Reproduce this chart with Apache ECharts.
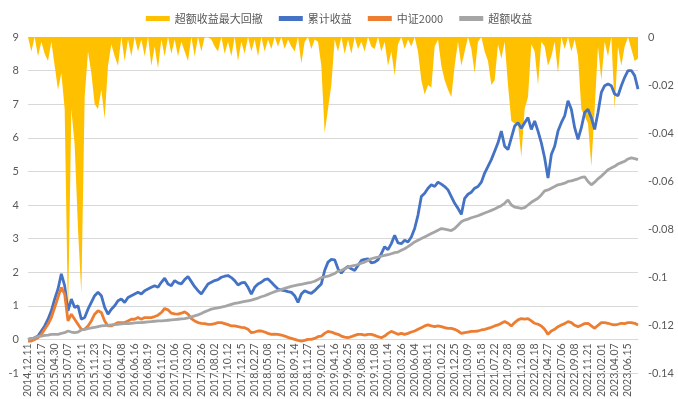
<!DOCTYPE html>
<html>
<head>
<meta charset="utf-8">
<script src="https://cdn.jsdelivr.net/npm/echarts@6/dist/echarts.min.js"></script>
<style>
  html, body { margin: 0; padding: 0; background: #fff; }
</style>
</head>
<body>
<div id="main" style="width: 678px; height: 399px;"></div>
<script>
// date labels shown on the x axis (one every 4 samples)
const tickLabels = ['2014.12.11','2015.02.17','2015.04.30','2015.07.07','2015.09.11','2015.11.23','2016.01.27','2016.04.08','2016.06.16','2016.08.19','2016.11.02','2017.01.06','2017.03.20','2017.05.26','2017.08.02','2017.10.12','2017.12.15','2018.02.27','2018.05.08','2018.07.12','2018.09.14','2018.11.27','2019.02.01','2019.04.16','2019.06.25','2019.08.28','2019.11.08','2020.01.14','2020.03.26','2020.06.04','2020.08.11','2020.10.22','2020.12.25','2021.03.09','2021.05.18','2021.07.22','2021.09.28','2021.12.08','2022.02.18','2022.04.27','2022.07.06','2022.09.08','2022.11.21','2023.02.01','2023.04.07','2023.06.15'];

// 超额收益最大回撤 (right axis)
const drawdown = [0,-0.006,0,-0.008,-0.002,-0.007,-0.01,-0.002,-0.012,-0.022,-0.015,-0.03,-0.117,-0.03,-0.045,-0.08,-0.107,-0.025,-0.006,-0.015,-0.028,-0.03,-0.022,-0.034,-0.012,-0.003,-0.008,-0.012,0,-0.01,-0.001,-0.008,0,-0.006,-0.001,-0.008,0,
  -0.012,-0.004,-0.013,-0.001,-0.008,0,-0.007,-0.001,-0.008,-0.002,-0.006,-0.01,0,-0.008,0,-0.006,0,0,-0.001,-0.004,-0.006,0,-0.007,-0.002,-0.008,0,-0.01,-0.002,-0.007,0,-0.006,-0.001,-0.008,0,-0.006,-0.001,-0.005,0,
  -0.004,0,-0.005,-0.001,-0.004,-0.006,0,-0.011,-0.002,0,-0.005,-0.001,-0.002,-0.012,-0.04,-0.03,-0.02,-0.001,-0.006,0,-0.007,-0.001,-0.007,0,-0.005,-0.002,-0.006,0,-0.004,-0.005,0,-0.006,-0.002,-0.012,-0.006,-0.016,-0.003,
  0,-0.005,-0.001,-0.004,0,-0.006,-0.018,-0.024,-0.02,-0.021,-0.004,-0.001,-0.012,-0.018,-0.022,-0.025,-0.012,-0.002,-0.012,-0.006,0,-0.005,-0.015,-0.002,0,-0.006,-0.01,-0.02,-0.018,-0.003,-0.009,-0.002,-0.02,-0.035,-0.036,-0.036,-0.05,
  -0.03,-0.025,-0.003,-0.006,-0.02,-0.002,-0.004,-0.012,-0.008,-0.002,-0.015,0,-0.005,0,-0.006,-0.001,-0.008,-0.03,-0.033,-0.036,-0.054,-0.03,-0.004,-0.018,-0.002,-0.008,0,-0.03,-0.004,-0.012,-0.004,0,-0.005,-0.01,-0.009];

// 累计收益
const cumReturn = [0,0.02,0.05,0.1,0.25,0.4,0.6,0.85,1.2,1.5,1.95,1.6,0.85,1.2,0.95,1.0,0.6,0.65,0.9,1.1,1.3,1.4,1.3,0.95,0.75,0.9,1.0,1.15,1.2,1.1,1.25,1.3,1.35,1.4,1.35,1.45,1.5,
  1.55,1.6,1.55,1.7,1.82,1.65,1.6,1.75,1.68,1.65,1.78,1.87,1.72,1.57,1.45,1.35,1.5,1.65,1.7,1.75,1.78,1.85,1.88,1.9,1.84,1.75,1.62,1.68,1.7,1.55,1.35,1.55,1.65,1.7,1.78,1.8,1.7,1.6,
  1.5,1.47,1.45,1.42,1.4,1.3,1.1,1.35,1.45,1.4,1.37,1.45,1.55,1.65,2.05,2.3,2.38,2.37,2.1,1.97,2.1,2.17,2.1,2.05,2.2,2.35,2.38,2.4,2.28,2.3,2.37,2.55,2.76,2.67,2.85,3.1,2.87,
  2.85,2.95,2.9,3.05,3.3,3.7,4.25,4.35,4.5,4.6,4.55,4.68,4.62,4.55,4.45,4.25,4.05,3.9,3.72,4.2,4.32,4.38,4.5,4.55,4.68,4.95,5.15,5.35,5.6,5.85,6.2,5.75,5.65,6.0,6.35,6.45,6.28,
  6.45,6.6,6.25,6.5,6.2,5.85,5.4,4.8,5.5,5.75,6.2,6.45,6.65,7.1,6.85,6.3,5.95,6.3,6.75,6.85,6.6,6.25,6.75,7.35,7.55,7.6,7.55,7.3,7.25,7.55,7.8,8.0,8.0,7.85,7.45];

// 中证2000
const csi2000 = [-0.05,-0.05,0,0.05,0.15,0.3,0.45,0.65,0.95,1.25,1.55,1.35,0.55,0.75,0.6,0.45,0.3,0.3,0.4,0.55,0.75,0.85,0.8,0.55,0.4,0.4,0.45,0.5,0.5,0.5,0.55,0.6,0.6,0.65,0.6,0.65,0.65,
  0.65,0.68,0.72,0.8,0.92,0.88,0.78,0.76,0.75,0.78,0.82,0.75,0.62,0.55,0.5,0.48,0.47,0.45,0.45,0.47,0.5,0.5,0.47,0.44,0.4,0.4,0.38,0.36,0.35,0.3,0.2,0.22,0.25,0.25,0.22,0.18,0.15,0.16,
  0.15,0.13,0.1,0.06,0.03,0,-0.03,-0.05,-0.03,0,0,0.03,0.08,0.1,0.18,0.24,0.22,0.18,0.15,0.1,0.07,0.05,0.08,0.12,0.15,0.15,0.13,0.15,0.15,0.12,0.08,0.05,0.1,0.18,0.24,0.2,0.15,
  0.18,0.15,0.18,0.22,0.25,0.3,0.35,0.4,0.43,0.4,0.38,0.4,0.38,0.35,0.33,0.33,0.3,0.25,0.18,0.2,0.22,0.24,0.24,0.25,0.28,0.3,0.33,0.36,0.4,0.43,0.48,0.53,0.48,0.4,0.5,0.58,0.62,
  0.6,0.62,0.55,0.48,0.45,0.4,0.3,0.15,0.25,0.3,0.38,0.43,0.47,0.53,0.5,0.42,0.38,0.42,0.47,0.48,0.4,0.33,0.42,0.5,0.5,0.48,0.45,0.43,0.45,0.48,0.47,0.5,0.5,0.48,0.43];

// 超额收益
const excessReturn = [0,0.02,0.05,0.08,0.1,0.12,0.13,0.15,0.15,0.15,0.18,0.2,0.25,0.22,0.2,0.22,0.28,0.3,0.32,0.34,0.36,0.38,0.4,0.41,0.42,0.43,0.44,0.45,0.46,0.47,0.47,0.48,0.49,0.5,0.5,0.51,0.52,
  0.53,0.54,0.55,0.55,0.56,0.57,0.58,0.59,0.6,0.61,0.62,0.64,0.67,0.7,0.73,0.77,0.82,0.86,0.9,0.92,0.94,0.96,0.98,1.01,1.04,1.07,1.09,1.11,1.13,1.15,1.17,1.2,1.23,1.27,1.3,1.34,1.38,1.42,
  1.45,1.48,1.52,1.55,1.58,1.6,1.62,1.64,1.66,1.68,1.7,1.73,1.78,1.84,1.86,1.88,1.92,1.96,2.03,2.05,2.1,2.15,2.18,2.2,2.23,2.27,2.3,2.35,2.4,2.43,2.45,2.48,2.5,2.52,2.55,2.58,2.6,
  2.65,2.7,2.76,2.83,2.9,2.95,3.0,3.05,3.1,3.15,3.2,3.25,3.3,3.28,3.26,3.24,3.3,3.4,3.5,3.55,3.58,3.62,3.65,3.68,3.72,3.76,3.8,3.84,3.88,3.93,3.98,4.05,4.15,4.0,3.94,3.92,3.9,
  3.92,4.0,4.08,4.14,4.2,4.3,4.42,4.45,4.5,4.55,4.6,4.62,4.65,4.7,4.72,4.75,4.78,4.82,4.84,4.7,4.6,4.68,4.78,4.86,4.95,5.05,5.1,5.15,5.22,5.26,5.3,5.37,5.4,5.38,5.35];

// 4 samples per labelled date, last label followed by 3 more samples
const STEP = 4;
const categories = [];
tickLabels.forEach((t) => {
  categories.push(t);
  for (let k = 1; k < STEP; k++) categories.push('');
});

const textColor = '#595959';
const chart = echarts.init(document.getElementById('main'));
chart.setOption({
  animation: false,
  legend: {
    top: 8,
    left: 'center',
    itemWidth: 24,
    itemHeight: 5,
    itemGap: 16,
    icon: 'rect',
    textStyle: { color: textColor, fontSize: 11, fontFamily: 'Noto Sans CJK SC' },
    data: ['超额收益最大回撤', '累计收益', '中证2000', '超额收益']
  },
  grid: { left: 28, right: 40, top: 37, bottom: 26, outerBoundsMode: 'none' },
  xAxis: {
    type: 'category',
    boundaryGap: false,
    data: categories,
    // the category axis sits on the 0 line of the left axis (-1..9 over 336px)
    offset: -33.6,
    axisLine: { onZero: false, lineStyle: { color: '#d9d9d9' } },
    axisTick: { show: false },
    axisLabel: { interval: STEP - 1, rotate: 90, color: textColor, fontSize: 10.5, fontFamily: 'Lato', margin: 4 }
  },
  yAxis: [
    {
      type: 'value', min: -1, max: 9, interval: 1, position: 'left',
      axisLine: { show: false }, axisTick: { show: false },
      axisLabel: { color: textColor, fontSize: 11, fontFamily: 'Lato', margin: 9 },
      splitLine: { lineStyle: { color: '#d9d9d9' } }
    },
    {
      type: 'value', min: -0.14, max: 0, interval: 0.02, position: 'right',
      axisLine: { show: false }, axisTick: { show: false }, splitLine: { show: false },
      axisLabel: {
        color: textColor, fontSize: 11, fontFamily: 'Lato', margin: 10,
        formatter: v => (v === 0 ? '0' : String(+v.toFixed(2)))
      }
    }
  ],
  series: [
    {
      name: '超额收益最大回撤', type: 'line', yAxisIndex: 1, data: drawdown,
      symbol: 'none', color: '#FFC000',
      lineStyle: { width: 0 },
      areaStyle: { color: '#FFC000', opacity: 1, origin: 'end' }
    },
    {
      name: '累计收益', type: 'line', data: cumReturn, symbol: 'none',
      color: '#4472C4', lineStyle: { width: 2.8 }
    },
    {
      name: '中证2000', type: 'line', data: csi2000, symbol: 'none',
      color: '#ED7D31', lineStyle: { width: 2.8 }
    },
    {
      name: '超额收益', type: 'line', data: excessReturn, symbol: 'none',
      color: '#A5A5A5', lineStyle: { width: 2.8 }
    }
  ]
});
</script>
</body>
</html>
